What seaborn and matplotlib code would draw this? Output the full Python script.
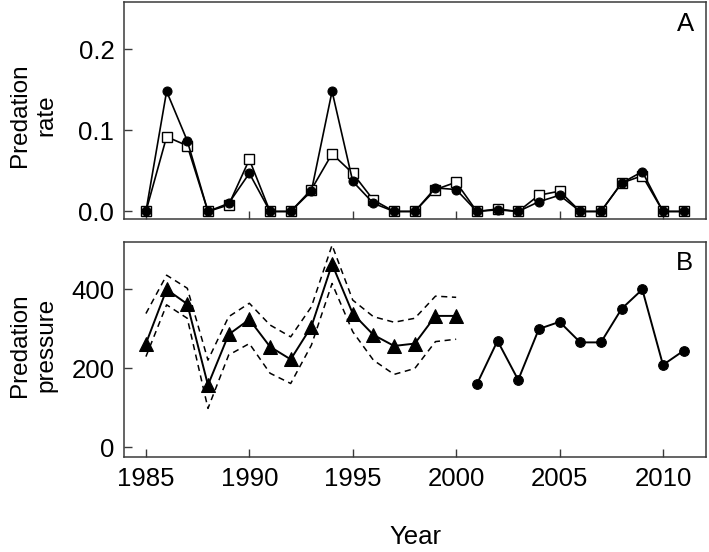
import matplotlib
matplotlib.use("Agg")
import matplotlib.pyplot as plt
import seaborn as sns
import pandas as pd

# ---- data ----
years_a = list(range(1985, 2012))
rate_circle = [0.0, 0.148, 0.087, 0.0, 0.010, 0.047, 0.0, 0.0, 0.025, 0.148,
               0.037, 0.010, 0.0, 0.0, 0.029, 0.027, 0.0, 0.002, 0.0, 0.012,
               0.020, 0.0, 0.0, 0.035, 0.049, 0.0, 0.0]
rate_square = [0.0, 0.092, 0.081, 0.0, 0.008, 0.064, 0.0, 0.0, 0.027, 0.071,
               0.047, 0.014, 0.0, 0.0, 0.027, 0.036, 0.0, 0.003, 0.0, 0.020,
               0.025, 0.0, 0.0, 0.035, 0.044, 0.0, 0.0]

years_tri = list(range(1985, 2001))
pressure_tri = [262, 399, 362, 157, 285, 323, 254, 222, 305, 463,
                338, 284, 256, 262, 332, 332]
upper_ci = [338, 435, 402, 220, 330, 364, 309, 279, 355, 511,
            372, 330, 316, 326, 382, 379]
lower_ci = [229, 360, 326, 98, 233, 262, 187, 161, 258, 414,
            292, 220, 184, 199, 267, 273]

years_circ_b = list(range(2001, 2012))
pressure_circ = [159, 269, 170, 299, 317, 265, 265, 350, 399, 208, 244]

x_ticks = [1985, 1990, 1995, 2000, 2005, 2010]

# ---- style ----
sns.set_style("ticks")
plt.rcParams["font.family"] = ["Liberation Sans", "DejaVu Sans"]
plt.rcParams["axes.edgecolor"] = "#3a3a3a"
plt.rcParams["axes.linewidth"] = 1.1
plt.rcParams["text.color"] = "black"
plt.rcParams["axes.labelcolor"] = "black"
plt.rcParams["xtick.color"] = "#3a3a3a"
plt.rcParams["ytick.color"] = "#3a3a3a"
plt.rcParams["xtick.labelcolor"] = "black"
plt.rcParams["ytick.labelcolor"] = "black"

FS = 18.5
FL = 17.5

fig = plt.figure(figsize=(7.09, 5.52), dpi=100)
axA = fig.add_axes([124 / 709, 1 - 219 / 552, 582 / 709, 217 / 552])
axB = fig.add_axes([124 / 709, 1 - 457 / 552, 582 / 709, 215 / 552])

dfA = pd.DataFrame({"year": years_a, "circle": rate_circle, "square": rate_square})
dfT = pd.DataFrame({"year": years_tri, "p": pressure_tri, "up": upper_ci, "lo": lower_ci})
dfC = pd.DataFrame({"year": years_circ_b, "p": pressure_circ})

# Panel A
sns.lineplot(data=dfA, x="year", y="square", ax=axA, color="black", lw=1.2,
             marker="s", markersize=7.5, markerfacecolor="white",
             markeredgecolor="black", markeredgewidth=1.0)
sns.lineplot(data=dfA, x="year", y="circle", ax=axA, color="black", lw=1.2,
             marker="o", markersize=6.5, markerfacecolor="black",
             markeredgecolor="black")

# Panel B
dash = (0, (4, 3))
sns.lineplot(data=dfT, x="year", y="up", ax=axB, color="black", lw=1.1, linestyle=dash)
sns.lineplot(data=dfT, x="year", y="lo", ax=axB, color="black", lw=1.1, linestyle=dash)
sns.lineplot(data=dfT, x="year", y="p", ax=axB, color="black", lw=1.4,
             marker="^", markersize=10, markerfacecolor="black",
             markeredgecolor="black")
sns.lineplot(data=dfC, x="year", y="p", ax=axB, color="black", lw=1.4,
             marker="o", markersize=7, markerfacecolor="black",
             markeredgecolor="black")

xlim = (1983.94, 2012.08)
for ax in (axA, axB):
    ax.set_xlim(*xlim)
    ax.set_xticks(x_ticks)
    for s in ax.spines.values():
        s.set_visible(True)
    ax.tick_params(direction="in", length=6, width=1.0, pad=7,
                   labelsize=FS, top=False, right=False)
    ax.set_xlabel("")

axA.set_ylim(-0.0093, 0.258)
axA.set_yticks([0.0, 0.1, 0.2])
axA.set_yticklabels(["0.0", "0.1", "0.2"])
axA.set_xticklabels([])
axA.set_ylabel("Predation\nrate", fontsize=FL, linespacing=1.3)
axA.yaxis.set_label_coords(-0.114, 0.48)

axB.set_ylim(-25, 519)
axB.set_yticks([0, 200, 400])
axB.set_xticklabels([str(t) for t in x_ticks])
axB.set_ylabel("Predation\npressure", fontsize=FL, linespacing=1.3)
axB.yaxis.set_label_coords(-0.114, 0.52)
axB.set_xlabel("Year", fontsize=FS)
axB.xaxis.set_label_coords(0.5, -0.315)

axA.text(0.965, 0.9, "A", transform=axA.transAxes, fontsize=FS,
         ha="center", va="center")
axB.text(0.963, 0.9, "B", transform=axB.transAxes, fontsize=FS,
         ha="center", va="center")

fig.savefig("out.png", dpi=100)
